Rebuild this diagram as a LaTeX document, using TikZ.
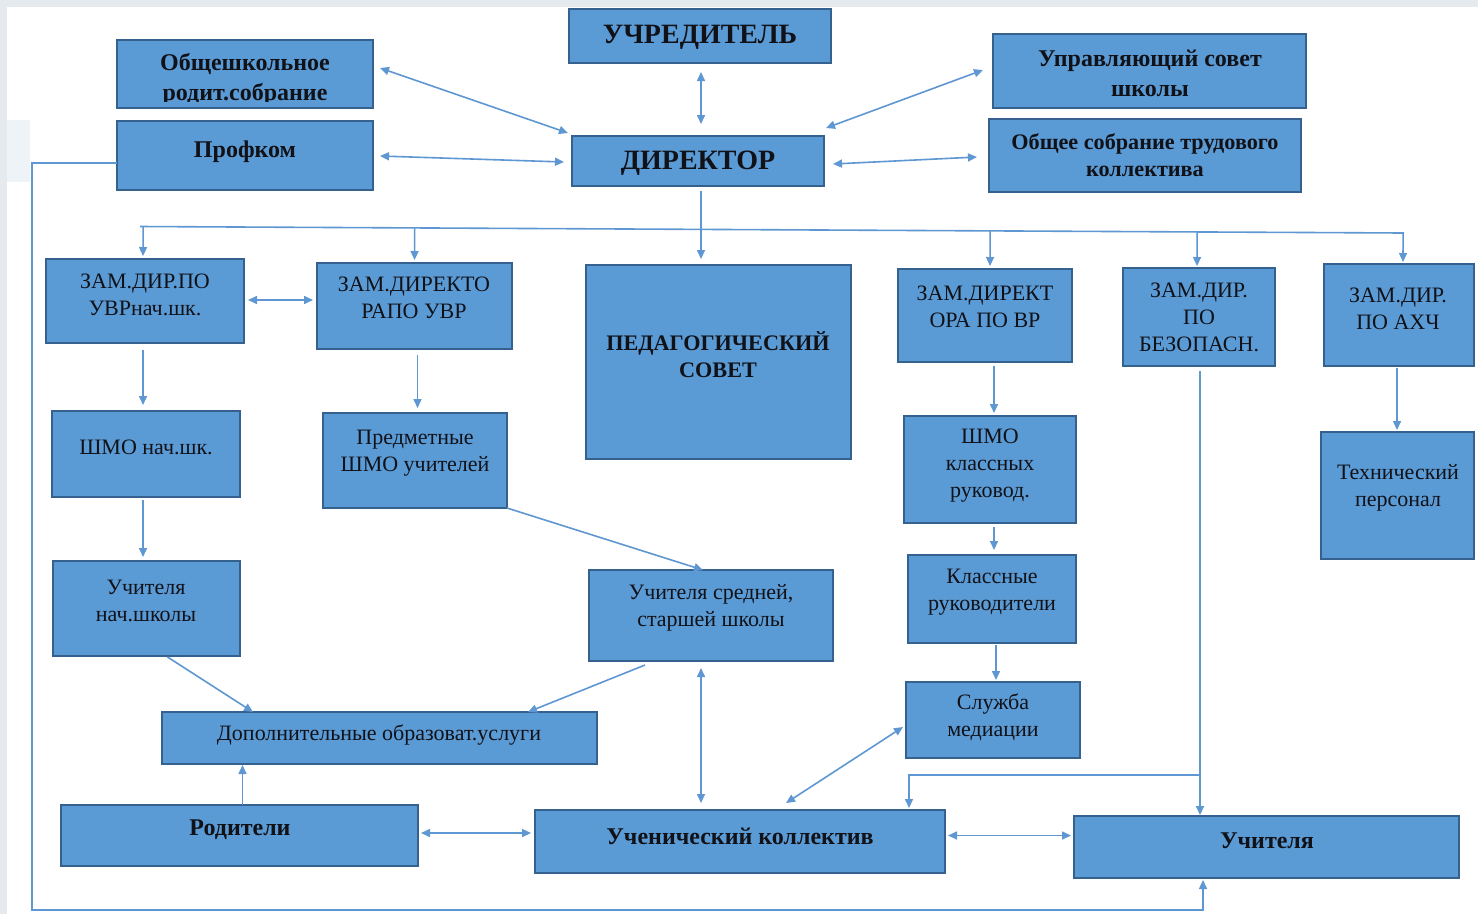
\documentclass[tikz,border=0pt]{standalone}
\usepackage{fontspec}
\setmainfont{Liberation Serif}
\usetikzlibrary{arrows.meta,calc}
\definecolor{boxfill}{HTML}{5B9BD5}
\definecolor{boxline}{HTML}{35618F}
\definecolor{connc}{HTML}{5F97D2}
\definecolor{bggray}{HTML}{E4EAEE}
\definecolor{bgpatch}{HTML}{EEF3F7}
\definecolor{ink}{HTML}{111118}
\newcommand{\BoxAt}[5]{\node[box,anchor=north west,minimum width={#4pt-#2pt},minimum height={#5pt-#3pt}] (#1) at (#2,#3) {};}
\begin{document}
\begin{tikzpicture}[x=1pt,y=-1pt,
  box/.style={draw=boxline,fill=boxfill,line width=1.3pt,inner sep=0pt,outer sep=0pt},
  tr/.style={text=ink,align=center,inner sep=0pt,font=\fontsize{22}{27}\selectfont},
  tb/.style={text=ink,align=center,inner sep=0pt,font=\fontsize{24}{30}\selectfont\bfseries},
  tbs/.style={text=ink,align=center,inner sep=0pt,font=\fontsize{22.2}{27}\selectfont\bfseries},
  tbig/.style={text=ink,align=center,inner sep=0pt,font=\fontsize{28}{30}\selectfont\bfseries},
  cn/.style={draw=connc,line width=1.6pt},
  ar/.style={cn,-{Triangle[length=9pt,width=8pt]}},
  dar/.style={cn,{Triangle[length=9pt,width=8pt]}-{Triangle[length=9pt,width=8pt]}}
]
% background
\fill[bggray] (0,0) rectangle (1478,914);
\fill[white] (7,7) rectangle (1478,914);
\fill[bgpatch] (7,120) rectangle (30,182);
\useasboundingbox (0,0) rectangle (1478,914);

% boxes
\BoxAt{uchr}{569}{9}{831}{63}
\BoxAt{obsh}{117}{40}{373}{108}
\BoxAt{prof}{117}{121}{373}{190}
\BoxAt{dir}{572}{136}{824}{186}
\BoxAt{upr}{993}{34}{1306}{108}
\BoxAt{obs}{989}{119}{1301}{192}
\BoxAt{zamA}{46}{259}{244}{343}
\BoxAt{zamB}{317}{263}{512}{349}
\BoxAt{ped}{586}{265}{851}{459}
\BoxAt{zamC}{898}{269}{1072}{362}
\BoxAt{zamD}{1123}{268}{1275}{366}
\BoxAt{zamE}{1324}{264}{1474}{366}
\BoxAt{shmoA}{52}{411}{240}{497}
\BoxAt{pred}{323}{413}{507}{508}
\BoxAt{shmoC}{904}{416}{1076}{523}
\BoxAt{tech}{1321}{432}{1474}{559}
\BoxAt{uchn}{53}{561}{240}{656}
\BoxAt{uss}{589}{570}{833}{661}
\BoxAt{kl}{908}{555}{1076}{643}
\BoxAt{sl}{906}{682}{1080}{758}
\BoxAt{dop}{162}{712}{597}{764}
\BoxAt{rod}{61}{805}{418}{866}
\BoxAt{uk}{535}{810}{945}{873}
\BoxAt{uch}{1074}{816}{1459}{878}

% texts
\node[tbig] (uchr-t) at (700,37) {УЧРЕДИТЕЛЬ};
\begin{scope}
  \clip (117,40) rectangle (373,101);
  \node[tb] (obsh-t) at (245,79) {Общешкольное\\родит.собрание};
\end{scope}
\node[tb] (prof-t) at (245,152) {Профком};
\node[tbig] (dir-t) at (698,163) {ДИРЕКТОР};
\node[tb] (upr-t) at (1150,73) {Управляющий совет\\школы};
\node[tbs] (obs-t) at (1145,155) {Общее собрание трудового\\коллектива};
\node[tr] (zamA-t) at (145,295) {ЗАМ.ДИР.ПО\\УВРнач.шк.};
\node[tr] (zamB-t) at (414,298) {ЗАМ.ДИРЕКТО\\РАПО УВР};
\node[tbs] (ped-t) at (718,355) {ПЕДАГОГИЧЕСКИЙ\\СОВЕТ};
\node[tr] (zamC-t) at (985,307) {ЗАМ.ДИРЕКТ\\ОРА ПО ВР};
\node[tr] (zamD-t) at (1199,317) {ЗАМ.ДИР.\\ПО\\БЕЗОПАСН.};
\node[tr] (zamE-t) at (1398,309) {ЗАМ.ДИР.\\ПО АХЧ};
\node[tr] (shmoA-t) at (146,447) {ШМО нач.шк.};
\node[tr] (pred-t) at (415,453) {Предметные\\ШМО учителей};
\node[tr] (shmoC-t) at (990,466) {ШМО\\классных\\руковод.};
\node[tr] (tech-t) at (1398,488) {Технический\\персонал};
\node[tr] (uchn-t) at (146,601) {Учителя\\нач.школы};
\node[tr] (uss-t) at (711,608) {Учителя средней,\\старшей школы};
\node[tr] (kl-t) at (992,592) {Классные\\руководители};
\node[tr] (sl-t) at (993,717) {Служба\\медиации};
\node[tr] (dop-t) at (379,735) {Дополнительные образоват.услуги};
\node[tb] (rod-t) at (240,830) {Родители};
\node[tb] (uk-t) at (740,836) {Ученический коллектив};
\node[tb] (uch-t) at (1267,841) {Учителя};

% connectors: top
\draw[dar] ($(uchr.south)+(1,9)$) -- ($(uchr.south |- dir.north)+(1,-12)$);
\draw[dar] ($(obsh.east)+(7,-6)$) -- ($(dir.north west)+(-4,-3)$);
\draw[dar] ($(prof.east)+(7,0.5)$) -- ($(dir.west)+(-8,1)$);
\draw[dar] ($(upr.west)+(-10,-1)$) -- ($(dir.north east)+(2,-8)$);
\draw[dar] ($(dir.east)+(9,3)$) -- ($(obs.west)+(-12,1.5)$);

% bus
\coordinate (busL) at (140,226.5);
\coordinate (busR) at (1404,233);
\draw[cn] (busL) -- (busR);
\draw[ar] ($(dir.south)+(3,5)$) -- ($(dir.south |- ped.north)+(3,-6)$);
\draw[ar,shorten >=3pt] ($(busL)!($(zamA.north)+(-2,0)$)!(busR)$) -- ($(zamA.north)+(-2,0)$);
\draw[ar,shorten >=3pt] ($(busL)!(zamB.north)!(busR)$) -- (zamB.north);
\draw[ar,shorten >=3pt] ($(busL)!($(zamC.north)+(5,0)$)!(busR)$) -- ($(zamC.north)+(5,0)$);
\draw[ar,shorten >=2pt] ($(busL)!($(zamD.north)+(-2,0)$)!(busR)$) -- ($(zamD.north)+(-2,0)$);
\draw[ar,shorten >=2pt] ($(busL)!($(zamE.north)+(4,0)$)!(busR)$) -- ($(zamE.north)+(4,0)$);

% left column
\draw[dar] ($(zamA.east)+(4,-1)$) -- ($(zamB.west |- zamA.east)+(-4,-1)$);
\draw[ar] ($(zamA.south)+(-2,7)$) -- ($(zamA.south |- shmoA.north)+(-2,-6)$);
\draw[ar] ($(shmoA.south)+(-3,3)$) -- ($(shmoA.south |- uchn.north)+(-3,-4)$);
\draw[ar] ($(zamB.south)+(3,6)$) -- ($(zamB.south |- pred.north)+(3,-5)$);
\draw[ar] (pred.south east) -- ($(uss.north)+(-8,0)$);
\draw[ar] ($(uchn.south)+(21,1)$) -- ($(dop.north west)+(91,0)$);
\draw[ar] ($(uss.south)+(-66,4)$) -- ($(dop.north east)+(-69,0)$);
\draw[dar] ($(uss.south)+(-10,7)$) -- ($(uss.south |- uk.north)+(-10,-7)$);
\draw[ar] ($(rod.north)+(3,0)$) -- ($(rod.north |- dop.south)+(3,1)$);
\draw[dar] ($(rod.east)+(3,-2.5)$) -- ($(uk.west |- rod.east)+(-4,-2.5)$);
\draw[dar] ($(uk.east)+(3,-6)$) -- ($(uch.west |- uk.east)+(-3,-6)$);
\draw[dar] ($(sl.west)+(-3,7)$) -- ($(uk.north)+(46,-7)$);

% right columns
\draw[ar] ($(zamC.south)+(9,4)$) -- ($(zamC.south |- shmoC.north)+(9,-3)$);
\draw[ar] ($(shmoC.south)+(4,4)$) -- ($(shmoC.south |- kl.north)+(4,-5)$);
\draw[ar] ($(kl.south)+(4,2)$) -- ($(kl.south |- sl.north)+(4,-2)$);
\draw[ar] ($(zamE.south)+(-2,2)$) -- ($(zamE.south |- tech.north)+(-2,-2)$);
\draw[ar] ($(zamD.south)+(1,5)$) -- ($(zamD.south |- uch.north)+(1,-1)$);
\coordinate (br) at ($(zamD.south)+(1,409)$);
\draw[ar] (br) -| ($(uk.north east)+(-36,-2)$);

% loop from Профком to Учителя
\coordinate (lp) at (32,910);
\draw[ar] ($(prof.west)+(0,7.5)$) -| (lp) -| ($(uch.south)+(-63.5,2)$);
\end{tikzpicture}
\end{document}
